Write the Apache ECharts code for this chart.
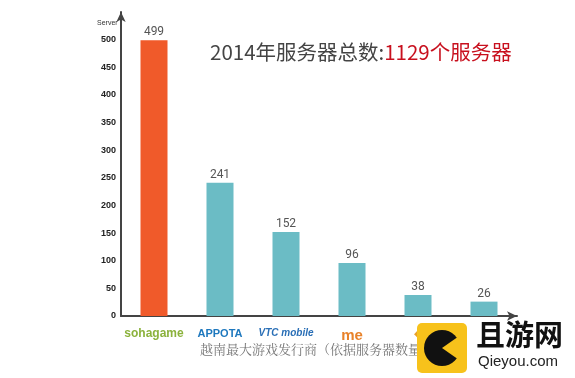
<!DOCTYPE html>
<html><head><meta charset="utf-8">
<script src="https://cdn.jsdelivr.net/npm/echarts@6/dist/echarts.min.js"></script>
<style>html,body{margin:0;padding:0;background:#fff}#c{width:575px;height:378px}</style>
</head><body><div id="c"></div>
<script>
var categories = ['sohagame', 'APPOTA', 'VTC mobile', 'me', 'cube', 'other'];
var servers = [499, 241, 152, 96, 38, 26];
var barColors = ['#F05A2A', '#6BBCC5', '#6BBCC5', '#6BBCC5', '#6BBCC5', '#6BBCC5'];
var yTicks = [0, 50, 100, 150, 200, 250, 300, 350, 400, 450, 500];
var yName = 'Server';
var titleMain = '2014年服务器总数:';
var titleRed = '1129个服务器';
var subtitle = '越南最大游戏发行商（依据服务器数量计算）';

var chart = echarts.init(document.getElementById('c'));
var labelRich = {
  soha: {color: '#8BB23C', fontWeight: 'bold', fontSize: 12, fontFamily: 'Arial'},
  appota: {color: '#1E78BE', fontWeight: 'bold', fontSize: 11, fontFamily: 'Arial'},
  vtc: {color: '#2A6FB6', fontWeight: 'bold', fontSize: 10, fontStyle: 'italic', fontFamily: 'Arial'},
  me: {color: '#E8822A', fontWeight: 'bold', fontSize: 15, fontFamily: 'Arial'},
  cube: {color: '#E8A02A', fontSize: 11},
  other: {color: '#fff', fontSize: 11}
};
var richKey = ['soha', 'appota', 'vtc', 'me', 'cube', 'other'];
chart.setOption({
  animation: false,
  title: {
    text: '{a|' + titleMain + '}{b|' + titleRed + '}',
    left: 205, top: 37,
    textStyle: {fontWeight: 'normal', rich: {
      a: {fontSize: 20.5, color: '#444', fontWeight: 'normal', fontFamily: 'Noto Sans CJK SC'},
      b: {fontSize: 20.5, color: '#C8101E', fontWeight: 'normal', fontFamily: 'Noto Sans CJK SC'}
    }}
  },
  grid: {left: 121, right: 58, top: 12, bottom: 62, containLabel: false},
  xAxis: {
    type: 'category', data: categories,
    axisLine: {lineStyle: {color: '#444', width: 2}, symbol: ['none', 'arrow'], symbolSize: [7, 10]},
    axisTick: {show: false},
    axisLabel: {
      margin: 12, interval: 0,
      formatter: function (v, i) {
        var t = v;
        if (i === 4) t = '◆';
        if (i === 5) t = '';
        return '{' + richKey[i] + '|' + t + '}';
      },
      rich: labelRich
    }
  },
  yAxis: {
    type: 'value', min: 0, max: 550, interval: 50,
    axisLine: {show: true, lineStyle: {color: '#444', width: 2}, symbol: ['none', 'arrow'], symbolSize: [7, 10]},
    axisTick: {show: false},
    splitLine: {show: false},
    axisLabel: {
      fontSize: 9, fontWeight: 'bold', color: '#222', fontFamily: 'Arial', margin: 5,
      formatter: function (v) { return yTicks.indexOf(v) >= 0 ? String(v) : ''; }
    }
  },
  series: [{
    type: 'bar', barWidth: 27,
    data: servers.map(function (v, i) { return {value: v, itemStyle: {color: barColors[i]}}; }),
    label: {show: true, position: 'top', distance: 2, color: '#555', fontSize: 12, fontFamily: 'Roboto'}
  }],
  graphic: [
    {type: 'text', left: 97, top: 20, z: 5,
     style: {text: yName, fontSize: 7, fill: '#333', fontFamily: 'Arial'}},
    {type: 'text', left: 200, top: 343, z: 5,
     style: {text: subtitle, fontSize: 13, fill: '#777', fontFamily: 'Noto Serif CJK SC, Noto Sans CJK SC'}},
    {type: 'rect', shape: {x: 417, y: 323, width: 50, height: 50, r: 5}, style: {fill: '#F7C21B'}, z: 10},
    {type: 'circle', shape: {cx: 442, cy: 348, r: 18}, style: {fill: '#111'}, z: 11},
    {type: 'polygon', shape: {points: [[442, 348], [462, 334], [462, 362]]}, style: {fill: '#F7C21B'}, z: 12},
    {type: 'rect', shape: {x: 468, y: 322, width: 107, height: 56}, style: {fill: '#fff'}, z: 10},
    {type: 'text', left: 476, top: 320, z: 11,
     style: {text: '且游网', fontSize: 29, fontWeight: 'bold', fill: '#111', fontFamily: 'Noto Sans CJK SC'}},
    {type: 'text', left: 478, top: 354, z: 11,
     style: {text: 'Qieyou.com', fontSize: 15, fill: '#222', fontFamily: 'Arial'}}
  ]
});
</script></body></html>
